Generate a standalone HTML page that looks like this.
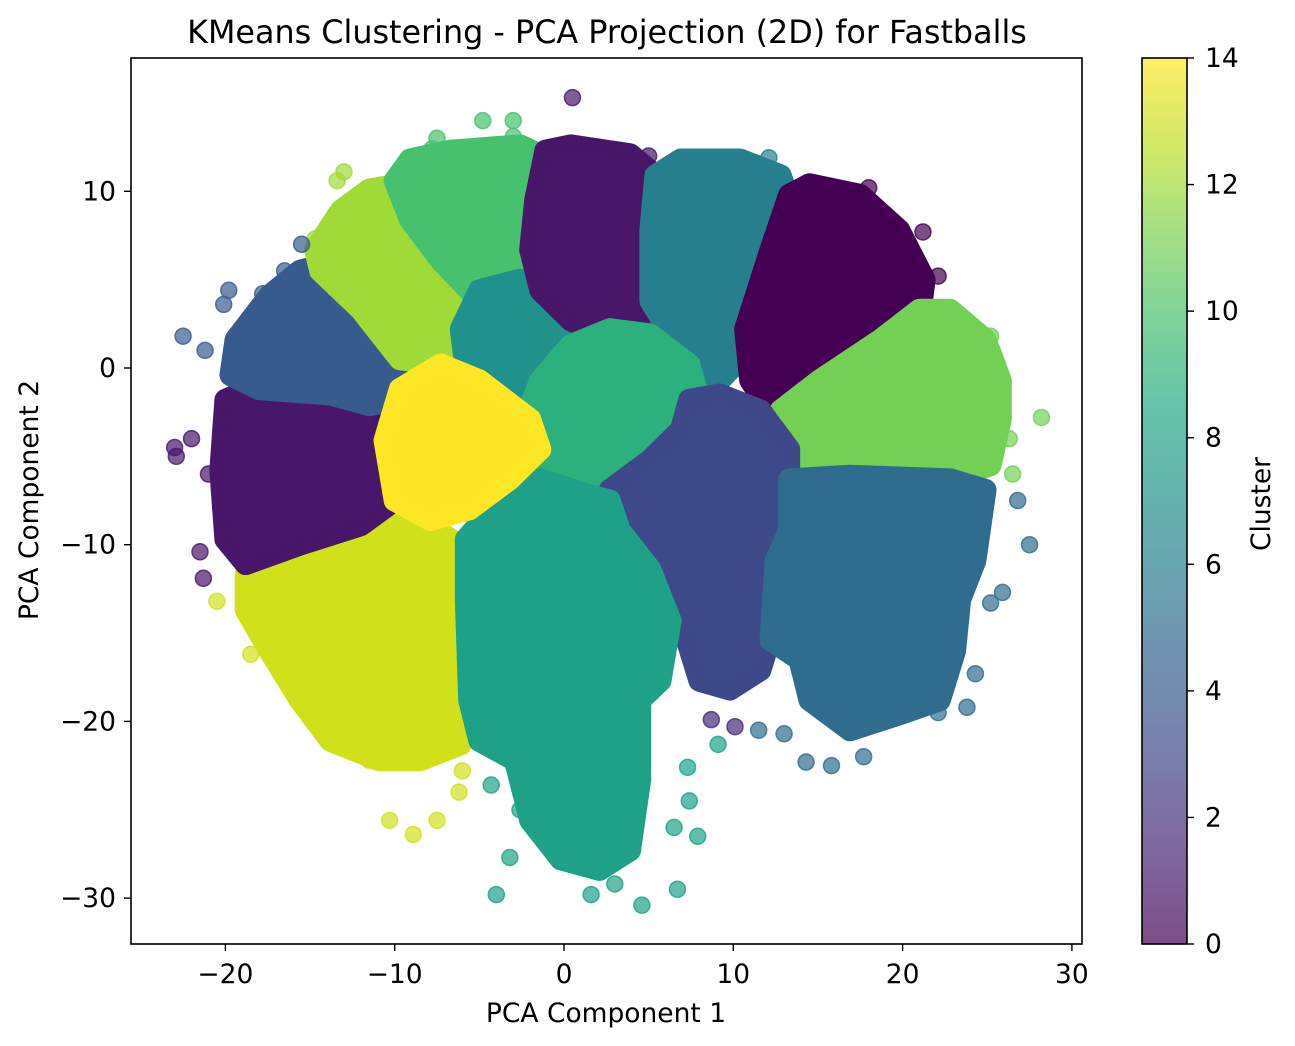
<!DOCTYPE html>
<html><head><meta charset="utf-8">
<style>
html,body{margin:0;padding:0;background:#fff;}
svg{display:block;font-family:"DejaVu Sans","Liberation Sans",sans-serif;}
</style></head>
<body>
<svg id="chart" width="1295" height="1046" viewBox="0 0 1295 1046" xmlns="http://www.w3.org/2000/svg">
<defs>
<linearGradient id="cbgrad" x1="0" y1="1" x2="0" y2="0">
<stop offset="0" stop-color="#440154"/><stop offset="0.1" stop-color="#482475"/><stop offset="0.2" stop-color="#414487"/><stop offset="0.3" stop-color="#355f8d"/><stop offset="0.4" stop-color="#2a788e"/><stop offset="0.5" stop-color="#21918c"/><stop offset="0.6" stop-color="#22a884"/><stop offset="0.7" stop-color="#44bf70"/><stop offset="0.8" stop-color="#7ad151"/><stop offset="0.9" stop-color="#bddf26"/><stop offset="1" stop-color="#fde725"/>
</linearGradient>
<clipPath id="plotclip"><rect x="131" y="58" width="951" height="886"/></clipPath>
</defs>
<text x="607" y="43" font-size="31.8" text-anchor="middle">KMeans Clustering - PCA Projection (2D) for Fastballs</text>
<g id="marks" clip-path="url(#plotclip)"></g>
<rect x="131" y="58" width="951" height="886" fill="none" stroke="#000" stroke-width="1.6"/>
<g id="xaxis"></g>
<g id="yaxis"></g>
<text x="606" y="1022" font-size="26.5" text-anchor="middle">PCA Component 1</text>
<text transform="translate(38,500) rotate(-90)" font-size="26.5" text-anchor="middle">PCA Component 2</text>
<rect x="1142" y="58" width="45" height="886" fill="url(#cbgrad)" opacity="0.7"/>
<rect x="1142" y="58" width="45" height="886" fill="none" stroke="#000" stroke-width="1.6"/>
<g id="cbaxis"></g>
<text transform="translate(1270,504) rotate(-90)" font-size="26.5" text-anchor="middle">Cluster</text>
</svg>
<script>
const xTicks=[-20,-10,0,10,20,30];
const yTicks=[-30,-20,-10,0,10];
const cbTicks=[0,2,4,6,8,10,12,14];
const viridis15=["#440154","#481769","#472a7a","#3e4989","#375b8d","#2f6c8e","#277f8e","#21918c","#1fa188","#2cb17e","#48c16e","#73d055","#a0da39","#d0e11c","#fde725"];
// cluster region outlines (data coords) — drawn in this order
const clusterIds=[13,1,4,12,10,7,1,6,0,11,9,3,5,8,14];
const clusterShapes=[
[[-18.8,-11.7],[-15.6,-9.7],[-12,-8.9],[-7.9,-8.9],[-5.8,-10.3],[-5.6,-18.8],[-6.1,-21.3],[-8.5,-22.2],[-10.9,-22.2],[-13.8,-21.1],[-15.6,-18.8],[-17.4,-16],[-18.8,-13.7]],
[[-20,-1.8],[-18,-1],[-13.8,-1],[-11.5,-1.5],[-10,-4.1],[-10,-7.5],[-12,-8.9],[-15.6,-10],[-18.8,-11.1],[-20,-9.7],[-20.3,-5.8]],
[[-19.4,1.6],[-17.4,4.1],[-15.6,5.5],[-14.4,5.8],[-12,3.8],[-9.7,1],[-8.5,-0.4],[-9.7,-1.8],[-11.5,-2.1],[-13.8,-1.5],[-18,-1.2],[-19.7,-0.4]],
[[-14.7,6.7],[-13.2,8.9],[-11.5,10.1],[-9.7,10.4],[-7.9,9.2],[-6.1,6.1],[-5.6,3.3],[-6.1,1],[-7.3,0.2],[-9.7,0.5],[-12,3.3],[-14.4,5.5]],
[[-10,10.6],[-9.1,11.8],[-6.7,12.3],[-2.6,12.6],[-0.8,11.8],[-1.1,8.9],[-1.4,7],[-2,5],[-3.8,4.4],[-5.6,4.4],[-7.3,6.1],[-9.1,8.4]],
[[-6.1,2.2],[-5,4.4],[-2.6,5],[-1.4,4.4],[0.9,2.7],[1.5,1],[-0.5,-0.7],[-2,-2.4],[-3.8,-1.8],[-5.8,-0.1]],
[[-1.1,12.3],[0.4,12.6],[3.9,12.1],[5.4,10.9],[5.4,7.8],[5.1,4.4],[4.5,2.7],[2.1,1.9],[0.4,2.7],[-1.4,4.4],[-2,6.7],[-1.7,9.5]],
[[5.4,10.9],[6.9,11.8],[10.4,11.8],[12.8,10.9],[13.3,9.5],[12.2,6.7],[11,3.8],[10.4,0.5],[9.2,-0.7],[7.4,0.2],[5.1,3.8],[5.1,7.8]],
[[13.3,9.8],[14.5,10.4],[17.5,9.8],[19.8,7.8],[21.3,5],[21,2.7],[18.7,1],[15.1,-0.7],[13.3,-2.4],[12.2,-2.4],[11,-0.7],[10.7,2.2],[12.2,6.7]],
[[12.8,-2.4],[15.1,-0.7],[18.7,1.6],[21,3.3],[22.8,3.3],[24.9,1.6],[25.8,-0.7],[25.8,-2.9],[25.2,-5.5],[22.8,-6.3],[19.8,-6.3],[16.9,-6.1],[13.9,-5.8],[12.8,-4.1]],
[[-1.4,-0.7],[0.4,1.3],[2.7,2.2],[5.1,1.9],[7.4,0.2],[8,-1.8],[6.9,-3.5],[5.1,-5.2],[3.3,-6.3],[1.5,-7.2],[-0.2,-6.9],[-1.7,-5.2],[-2.3,-2.9]],
[[7.4,-1.8],[9.2,-1.5],[11.6,-2.4],[13.3,-4.6],[13.3,-7.5],[12.8,-10.3],[12.5,-14.3],[11.6,-17.1],[9.8,-18.2],[8,-17.7],[6.9,-14.3],[5.1,-11.4],[3.3,-9.2],[2.7,-6.9],[5.1,-5.2],[6.9,-3.5]],
[[13.3,-6.3],[16.9,-6.1],[22.8,-6.3],[24.9,-6.9],[24.3,-10.9],[23.4,-13.1],[23.1,-16],[22.2,-18.8],[19.8,-19.6],[16.9,-20.5],[14.5,-18.8],[13.9,-16.5],[12.2,-15.4],[12.5,-10.9],[13.3,-9.2]],
[[-5.8,-9.7],[-3.8,-7.5],[-1.4,-6.3],[1.5,-7.2],[2.7,-7.5],[3.3,-9.2],[5.1,-11.4],[6.3,-14.3],[5.7,-17.7],[4.5,-18.8],[4.5,-23.3],[3.9,-27.3],[2.1,-28.4],[-0.2,-27.8],[-2,-25.6],[-2.9,-22.2],[-5,-21.1],[-5.6,-18.8],[-5.8,-13.1]],
[[-9.7,-1.2],[-7.3,0.2],[-5,-0.7],[-2,-2.9],[-1.4,-4.6],[-3.2,-6.3],[-5.6,-8],[-7.9,-8.6],[-10,-7.5],[-10.6,-4.1]]
];
// isolated outlier points [x, y, cluster]
const outliers=[[0.5,15.3,1],[-22.5,1.8,4],[-23,-4.5,1],[-22.9,-5,1],[28.2,-2.8,11],[27.5,-10,5],[-4,-29.8,8],[4.6,-30.4,8],[-8.9,-26.4,13],[-10.3,-25.6,13],[-7.5,-25.6,13],[-3,14,10],[-4.8,14,10],[-7.5,13,10],[18,10.2,0],[15.8,-22.5,5],[14.3,-22.3,5],[6.7,-29.5,8],[-3.2,-27.7,8],[-20.5,-13.2,13],[-18.5,-16.2,13],[-19.8,4.4,4],[-21.5,-10.4,1],[-21.3,-11.9,1],[26.5,-6,11],[26.3,-4,11],[25.2,1.8,11],[-13,11.1,12],[-13.4,10.6,12],[-14.7,7.3,12],[-15.5,7,4],[-16.5,5.5,4],[12.1,11.9,6],[21.2,7.7,0],[22.1,5.2,0],[-22,-4,1],[-21,-6,1],[-21.2,1,4],[-20.1,3.6,4],[7.4,-24.5,8],[7.9,-26.5,8],[6.5,-26,8],[3,-29.2,8],[1.6,-29.8,8],[-2.6,-25,8],[-4.3,-23.6,8],[9.1,-21.3,8],[7.3,-22.6,8],[10.1,-20.3,2],[8.7,-19.9,2],[11.5,-20.5,5],[13,-20.7,5],[17.7,-22,5],[22.1,-19.5,5],[23.8,-19.2,5],[24.3,-17.3,5],[25.2,-13.3,5],[25.9,-12.7,5],[26.8,-7.5,5],[-6,-22.8,13],[-6.2,-24,13],[-11.5,-22.2,13],[-13.9,-20.8,13],[-3,13.1,10],[-7.8,12.4,10],[5,12,1],[19.5,8,0],[-17.8,4.2,4],[-12,-8.9,1]];

const X0=564,XS=16.93,Y0=368,YS=17.67;
function sx(v){return X0+v*XS;}
function sy(v){return Y0-v*YS;}
function cbY(v){return 944-v/14*886;}
const NS="http://www.w3.org/2000/svg";
function mk(tag,attrs,parent){const e=document.createElementNS(NS,tag);for(const k in attrs)e.setAttribute(k,attrs[k]);parent.appendChild(e);return e;}

const marks=document.getElementById('marks');
clusterShapes.forEach((pts,i)=>{
  const col=viridis15[clusterIds[i]];
  const p=mk('polygon',{points:pts.map(q=>sx(q[0])+','+sy(q[1])).join(' '),fill:col,stroke:col,'stroke-width':22,'stroke-linejoin':'round'},marks);
  
  
  for(let k=0;k<pts.length;k++){
    const a=pts[k],b=pts[(k+1)%pts.length];
    const ax=sx(a[0]),ay=sy(a[1]),bx=sx(b[0]),by=sy(b[1]);
    const len=Math.hypot(bx-ax,by-ay),n=Math.max(1,Math.round(len/14));
    for(let j=0;j<n;j++){
      const t=j/n;
      const c=mk('circle',{cx:ax+(bx-ax)*t,cy:ay+(by-ay)*t,r:9,fill:col,'fill-opacity':0.7,stroke:col,'stroke-width':1.5},marks);
      
      
    }
  }
});
outliers.forEach(o=>{
  const col=viridis15[o[2]];
  const c=mk('circle',{cx:sx(o[0]),cy:sy(o[1]),r:8,fill:col,'fill-opacity':0.7,stroke:col,'stroke-opacity':0.8,'stroke-width':1.5},marks);
  
  
});

const xa=document.getElementById('xaxis');
xTicks.forEach(t=>{
  const x=sx(t);
  const l=mk('line',{x1:x,x2:x,y1:944,y2:951,stroke:'#000','stroke-width':1.4},xa);
  
  
  const tx=mk('text',{x:x,y:983,'font-size':26.5,'text-anchor':'middle'},xa);
  tx.textContent=(t<0?'\u2212'+Math.abs(t):String(t));
  
  
});
const ya=document.getElementById('yaxis');
yTicks.forEach(t=>{
  const y=sy(t);
  const l=mk('line',{x1:124,x2:131,y1:y,y2:y,stroke:'#000','stroke-width':1.4},ya);
  
  
  const tx=mk('text',{x:116,y:y+9,'font-size':26.5,'text-anchor':'end'},ya);
  tx.textContent=(t<0?'\u2212'+Math.abs(t):String(t));
  
  
});
const cb=document.getElementById('cbaxis');
cbTicks.forEach(t=>{
  const y=cbY(t);
  const l=mk('line',{x1:1187,x2:1194,y1:y,y2:y,stroke:'#000','stroke-width':1.4},cb);
  
  
  const tx=mk('text',{x:1205,y:y+9,'font-size':26.5},cb);
  tx.textContent=String(t);
  
  
});
</script>
</body></html>
